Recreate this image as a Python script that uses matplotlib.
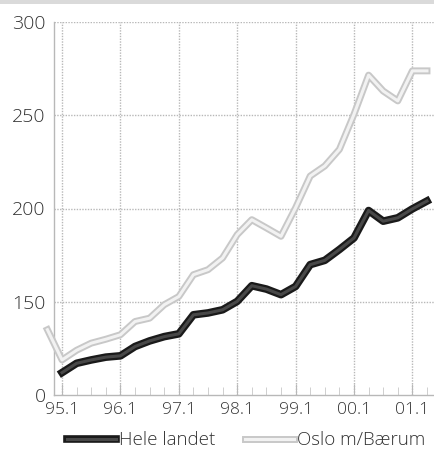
import numpy as np
import matplotlib.pyplot as plt
import matplotlib.patheffects as pe
from matplotlib.patches import Rectangle

plt.rcParams['font.family'] = ['Open Sans', 'DejaVu Sans']
plt.rcParams['font.weight'] = 'light'

# quarter index: 0 = 95.1, 1 = 95.2, ...  (-1 = 94.4)
year_labels = ['95.1', '96.1', '97.1', '98.1', '99.1', '00.1', '01.1']
hele_q = np.arange(0, 26)
hele = [112, 117, 118.8, 120.3, 121, 126, 129, 131.3, 132.8, 143, 144, 145.7,
        150.2, 158.6, 156.8, 153.8, 158.2, 169.9, 172.2, 178, 184.2, 198.9,
        193.2, 195, 199.8, 204]
oslo_q = np.arange(-1, 26)
oslo = [135, 118.8, 124, 127.8, 129.9, 132.3, 139.4, 141.2, 148.4, 152.8, 164.5,
        167.2, 173.5, 186, 194, 189.6, 185.1, 200.4, 217.4, 222.8, 231.7, 250.5,
        271.5, 263, 257.7, 273.8, 273.8]
ytick_vals = [100, 150, 200, 250, 300]   # axis is broken: bottom shows as 0
ytick_labels = ['0', '150', '200', '250', '300']

fig = plt.figure(figsize=(4.35, 4.58), dpi=100)
ax = fig.add_axes([54/435, 1 - 395/458, 1 - 54/435, (395 - 22)/458])

fig.patches.append(Rectangle((0, 1 - 4/458), 1, 4/458, transform=fig.transFigure,
                             facecolor='#dadada', edgecolor='none'))

ax.plot(oslo_q, oslo, color='#f2f2f2', lw=2.2, clip_on=False, zorder=3,
        label='Oslo m/Bærum',
        path_effects=[pe.Stroke(linewidth=5, foreground='#c8c8c8'), pe.Normal()])
ax.plot(hele_q, hele, color='#484848', lw=2.2, zorder=4, label='Hele landet',
        path_effects=[pe.Stroke(linewidth=5.5, foreground='#1a1a1a'), pe.Normal()])

ax.set_xlim(-0.55, 25.55)
ax.set_ylim(100, 300)
ax.set_xticks(np.arange(0, 25, 4))
ax.set_xticklabels(year_labels)
ax.set_xticks(np.arange(0, 26), minor=True)
ax.set_yticks(ytick_vals)
ax.set_yticklabels(ytick_labels)

for y in ytick_vals[1:]:
    ax.axhline(y, color='#b8b8b8', lw=1, ls=(0, (1, 1)), zorder=1)
for x in np.arange(0, 25, 4):
    ax.axvline(x, color='#b8b8b8', lw=1, ls=(0, (1, 1)), zorder=1)

for s in ['top', 'right']:
    ax.spines[s].set_visible(False)
for s in ['left', 'bottom']:
    ax.spines[s].set_color('#b8b8b8')
    ax.spines[s].set_linestyle((0, (1, 1)))
    ax.spines[s].set_linewidth(1)

ax.tick_params(axis='y', length=0, pad=6, labelsize=14, labelcolor='#333333')
ax.tick_params(axis='x', which='major', direction='in', length=8, color='#b8b8b8',
               pad=5, labelsize=12.5, labelcolor='#333333')
ax.tick_params(axis='x', which='minor', direction='in', length=6, color='#c8c8c8')

h, l = ax.get_legend_handles_labels()
fig.legend(h[::-1], l[::-1], loc='center', bbox_to_anchor=(0.566, 0.039), ncol=2,
           frameon=False, fontsize=13.5, handlelength=2.6, handletextpad=0.16,
           columnspacing=1.6, labelcolor='#333333')

fig.savefig('out.png', dpi=100)
